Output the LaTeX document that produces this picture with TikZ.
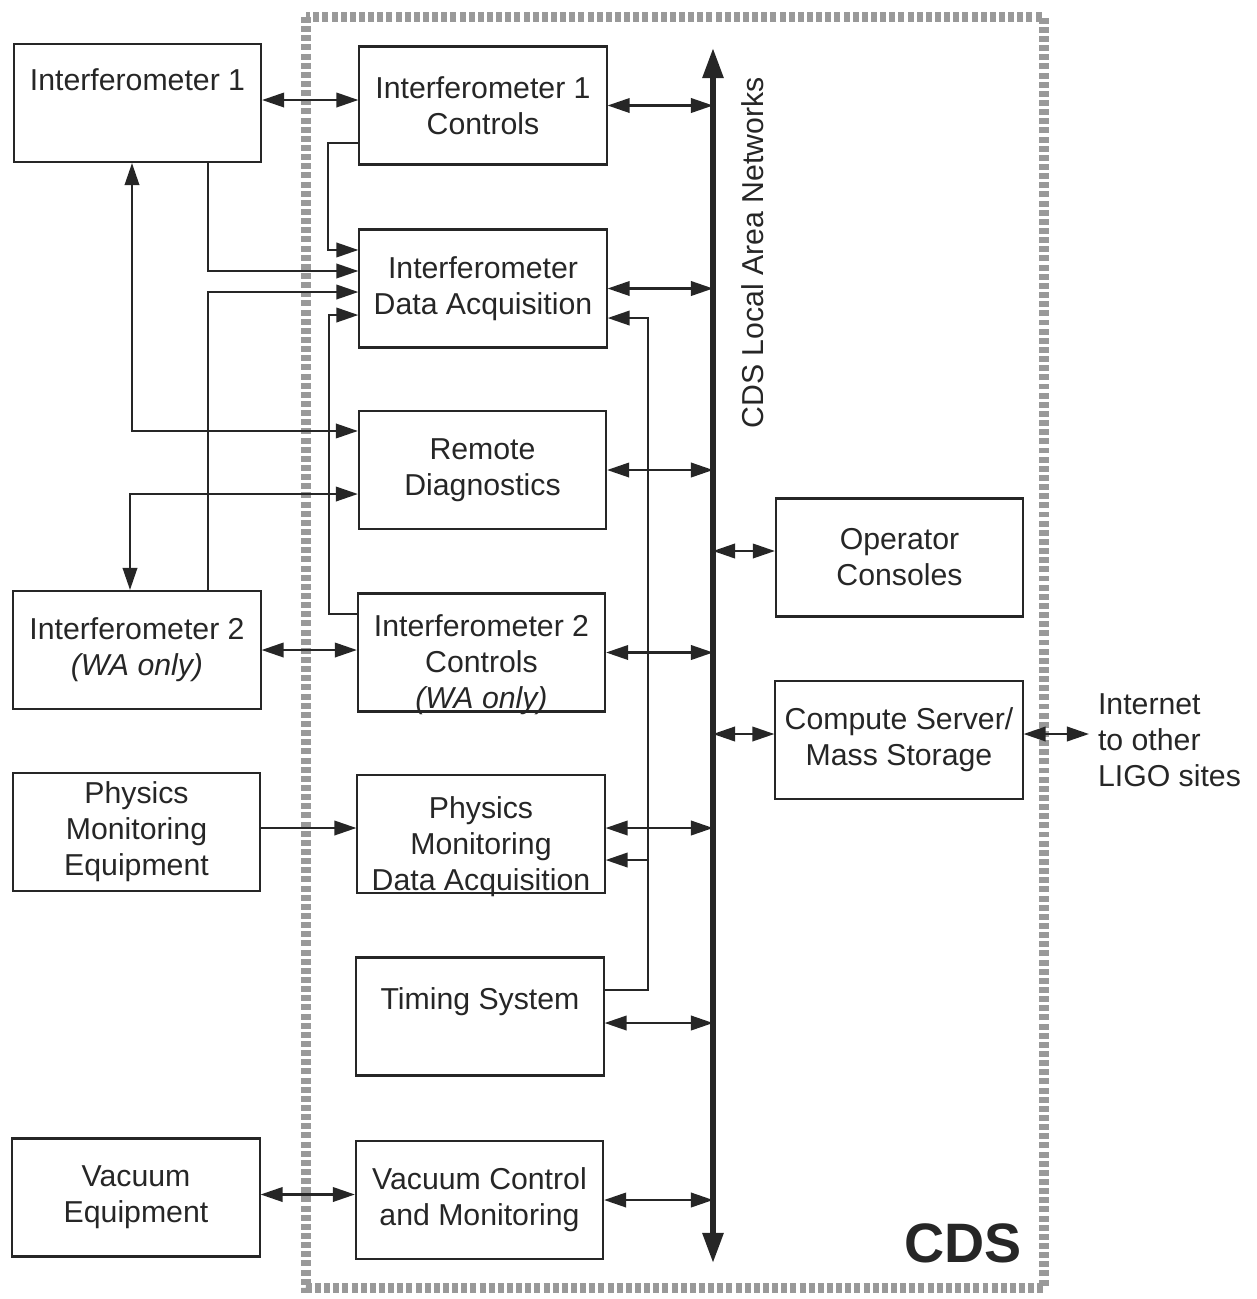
\documentclass[tikz,border=0pt]{standalone}
\usepackage{fontspec}
\setmainfont{Liberation Sans}
\usetikzlibrary{arrows.meta,positioning}

\tikzset{
  box/.style={draw, line width=0.6pt, minimum width=2.47cm, minimum height=1.18cm,
    align=center, inner sep=0pt, font=\fontsize{8.6}{10.25}\selectfont},
  lbl/.style={inner sep=0pt, font=\fontsize{8.6}{10.25}\selectfont},
  cdsedge/.style={draw=black!40, line width=2.6pt, dash pattern=on 1.7pt off 0.9pt},
  every path/.append style={line width=0.6pt},
}

\begin{document}
\begin{tikzpicture}[x=0.01cm, y=-0.01cm, color=black!85, >={Triangle[length=2.2mm,width=1.45mm]}]
    \useasboundingbox (0,0) rectangle (1256,1299);

    % CDS boundary
    \draw[cdsedge] (306,17) rectangle (1044,1288);
    \node[font=\fontsize{15.8}{18}\selectfont\bfseries, inner sep=0pt] (cds) at (963,1243) {CDS};

    % Nodes outside CDS
    \node[box, text depth=0.46cm] (ifoA) at (137.5,103) {Interferometer 1};
    \node[box] (ifoB) at (137,650) {Interferometer 2\\\textit{(WA only)}};
    \node[box] (physEq) at (136.5,832) {Physics\\Monitoring\\Equipment};
    \node[box] (vacEq) at (136,1197.5) {Vacuum\\Equipment};

    % Nodes inside CDS
    \node[box] (ctrlA) at (483,105.5) {Interferometer 1\\Controls};
    \node[box] (daqIfo) at (483,288.5) {Interferometer\\Data Acquisition};
    \node[box] (remDiag) at (482.5,470) {Remote\\Diagnostics};
    \node[box, label={[lbl, align=center, yshift=-0.125cm]center:Interferometer 2\\Controls\\\textit{(WA only)}}] (ctrlB) at (481.5,652.5) {};
    \node[box, label={[lbl, align=center, yshift=-0.13cm]center:Physics\\Monitoring\\Data Acquisition}] (daqPhys) at (481,834) {};
    \node[box, text depth=0.36cm] (timing) at (480,1016.5) {Timing System};
    \node[box] (vacCtrl) at (479.5,1200) {Vacuum Control\\and Monitoring};
    \node[box] (opCons) at (899.5,557.5) {Operator\\Consoles};
    \node[box] (compSrv) at (899,740) {Compute Server/\\Mass Storage};
    \node[lbl, align=left, anchor=west] (inet) at (1097,740) {Internet\\to other\\LIGO sites};

    % LAN
    \coordinate (busTop) at (713,48);
    \coordinate (busBot) at (713,1263);
    \draw[line width=1.6pt, {Triangle[length=3mm,width=2mm]}-{Triangle[length=3mm,width=2mm]}] (busTop) -- (busBot);
    \node[lbl, rotate=90] (lan) at (753,253) {CDS Local Area Networks};

    % Arrows to the LAN
    \draw[<->] (ctrlA.east) -- (ctrlA.east -| busTop);
    \draw[<->] (daqIfo.east) -- (daqIfo.east -| busTop);
    \draw[<->] (remDiag.east) -- (remDiag.east -| busTop);
    \draw[<->] (ctrlB.east) -- (ctrlB.east -| busTop);
    \draw[<->] ([yshift=0.06cm]daqPhys.east) -- ([yshift=0.06cm]daqPhys.east -| busTop);
    \draw[<->] ([yshift=-0.065cm]timing.east) -- ([yshift=-0.065cm]timing.east -| busTop);
    \draw[<->] (vacCtrl.east) -- (vacCtrl.east -| busTop);
    \draw[<->] ([yshift=0.065cm]opCons.west -| busTop) -- ([yshift=0.065cm]opCons.west);
    \draw[<->] ([yshift=0.06cm]compSrv.west -| busTop) -- ([yshift=0.06cm]compSrv.west);
    \draw[<->] ([yshift=0.06cm]compSrv.east) -- ([xshift=-0.08cm,yshift=0.06cm]compSrv.east -| inet.west);

    % Arrows across the boundary
    \draw[<->] ([yshift=0.03cm]ifoA.east) -- ([yshift=0.03cm]ifoA.east -| ctrlA.west);
    \draw[<->] (ifoB.east) -- (ifoB.east -| ctrlB.west);
    \draw[->] ([yshift=0.04cm]physEq.east) -- ([yshift=0.04cm]physEq.east -| daqPhys.west);
    \draw[<->] ([yshift=0.03cm]vacEq.east) -- ([yshift=0.03cm]vacEq.east -| vacCtrl.west);

    % Data acquisition inputs
    \draw[->] ([yshift=-0.375cm]ctrlA.west) -- ++(-30,0) |- ([yshift=0.385cm]daqIfo.west);
    \draw[->] ([xshift=0.705cm]ifoA.south) |- ([yshift=0.175cm]daqIfo.west);
    \draw[->] ([xshift=0.71cm]ifoB.north) |- ([yshift=-0.035cm]daqIfo.west);
    \draw[->] ([yshift=0.385cm]ctrlB.west) -- ++(-28,0) |- ([yshift=-0.265cm]daqIfo.west);

    % Remote diagnostics
    \draw[<->] ([xshift=-0.055cm]ifoA.south) |- ([yshift=0.39cm]remDiag.west);
    \draw[<->] ([yshift=-0.24cm]remDiag.west) -| ([xshift=-0.07cm]ifoB.north);

    % Timing
    \coordinate (tbend) at ([xshift=0.43cm,yshift=0.265cm]timing.east);
    \draw[->] ([yshift=0.265cm]timing.east) -- (tbend) |- ([yshift=-0.295cm]daqIfo.east);
    \draw[->] ([yshift=-0.26cm]daqPhys.east -| tbend) -- ([yshift=-0.26cm]daqPhys.east);
\end{tikzpicture}
\end{document}
